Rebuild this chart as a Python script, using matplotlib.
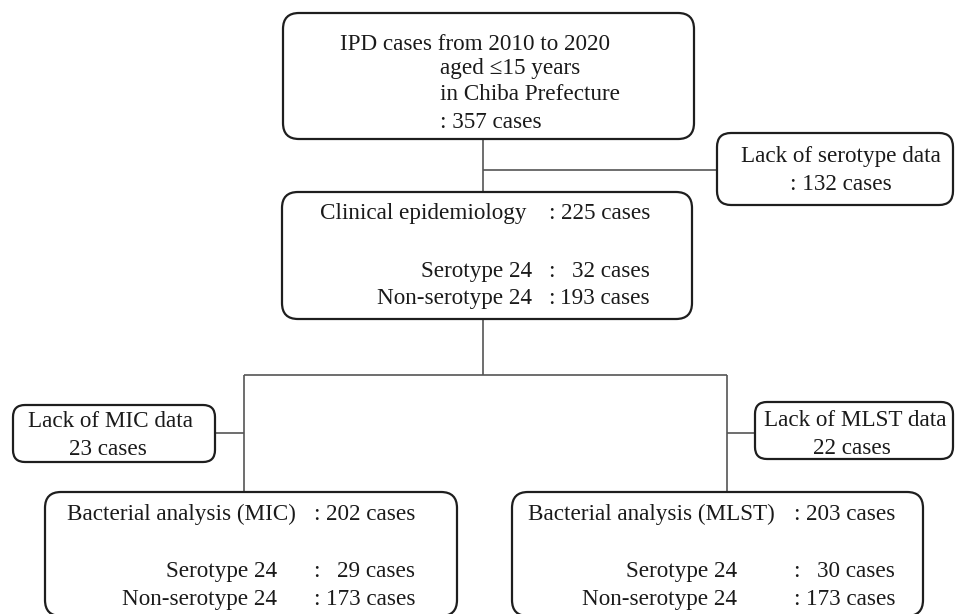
import matplotlib.pyplot as plt
from matplotlib.patches import FancyBboxPatch

plt.rcParams["font.family"] = ["Liberation Serif", "DejaVu Serif"]

# case counts
total_cases = 357
lack_serotype = 132
clinical = 225
clinical_split = [32, 193]
lack_mic = 23
mic = 202
mic_split = [29, 173]
lack_mlst = 22
mlst = 203
mlst_split = [30, 173]

top_lines = ["IPD cases from 2010 to 2020", "aged \u226415 years", "in Chiba Prefecture"]
split_labels = ["Serotype 24", "Non-serotype 24"]

FS = 16.7
BOX_C = "#1e1e1e"
LINE_C = "#555555"

fig = plt.figure(figsize=(9.55, 6.14), dpi=100)
ax = fig.add_axes([0, 0, 1, 1])
ax.set_xlim(0, 955)
ax.set_ylim(614, 0)
ax.axis("off")


def box(x0, y0, x1, y1, r=16):
    p = FancyBboxPatch((x0, y0), x1 - x0, y1 - y0,
                       boxstyle="round,pad=0,rounding_size=%d" % r,
                       fc="white", ec=BOX_C, lw=1.6, zorder=2)
    ax.add_patch(p)


def line(xs, ys):
    ax.plot(xs, ys, color=LINE_C, lw=1.2, zorder=1, solid_capstyle="butt")


def txt(x, y, s, ha="left"):
    # y is the visual middle of the line; place by baseline
    ax.text(x, y + 7, s, ha=ha, va="baseline", fontsize=FS, color="#1a1a1a", zorder=3)


# connectors
line([483, 483], [139, 192])
line([483, 717], [170, 170])
line([483, 483], [319, 375])
line([244, 727], [375, 375])
line([244, 244], [375, 492])
line([727, 727], [375, 492])
line([215, 244], [433, 433])
line([727, 755], [433, 433])

# top box
box(283, 13, 694, 139)
txt(340, 43, top_lines[0])
txt(440, 67, top_lines[1])
txt(440, 93, top_lines[2])
txt(440, 121, ": %d cases" % total_cases)

# lack of serotype
box(717, 133, 953, 205, r=14)
txt(841, 155, "Lack of serotype data", ha="center")
txt(841, 183, ": %d cases" % lack_serotype, ha="center")

# clinical epidemiology
box(282, 192, 692, 319)
txt(320, 212, "Clinical epidemiology")
txt(548, 212, ":")
txt(650, 212, "%d cases" % clinical, ha="right")
for i, (lab, v) in enumerate(zip(split_labels, clinical_split)):
    yy = 270 + i * 27
    txt(532, yy, lab, ha="right")
    txt(548, yy, ":")
    txt(650, yy, "%d cases" % v, ha="right")

# lack of MIC / MLST
box(13, 405, 215, 462, r=12)
txt(110, 420, "Lack of MIC data", ha="center")
txt(108, 448, "%d cases" % lack_mic, ha="center")

box(755, 402, 953, 459, r=12)
txt(855, 419, "Lack of MLST data", ha="center")
txt(852, 447, "%d cases" % lack_mlst, ha="center")

# bacterial analysis boxes
panels = [
    (45, 457, "Bacterial analysis (MIC)", mic, mic_split, 67, 277, 313, 415),
    (512, 923, "Bacterial analysis (MLST)", mlst, mlst_split, 528, 737, 793, 895),
]
for x0, x1, title, n, split, tx, lab_r, colon_x, num_r in panels:
    box(x0, 492, x1, 616)
    txt(tx, 513, title)
    txt(colon_x, 513, ":")
    txt(num_r, 513, "%d cases" % n, ha="right")
    for i, (lab, v) in enumerate(zip(split_labels, split)):
        yy = 570 + i * 28
        txt(lab_r, yy, lab, ha="right")
        txt(colon_x, yy, ":")
        txt(num_r, yy, "%d cases" % v, ha="right")

fig.savefig("out.png", dpi=100)
